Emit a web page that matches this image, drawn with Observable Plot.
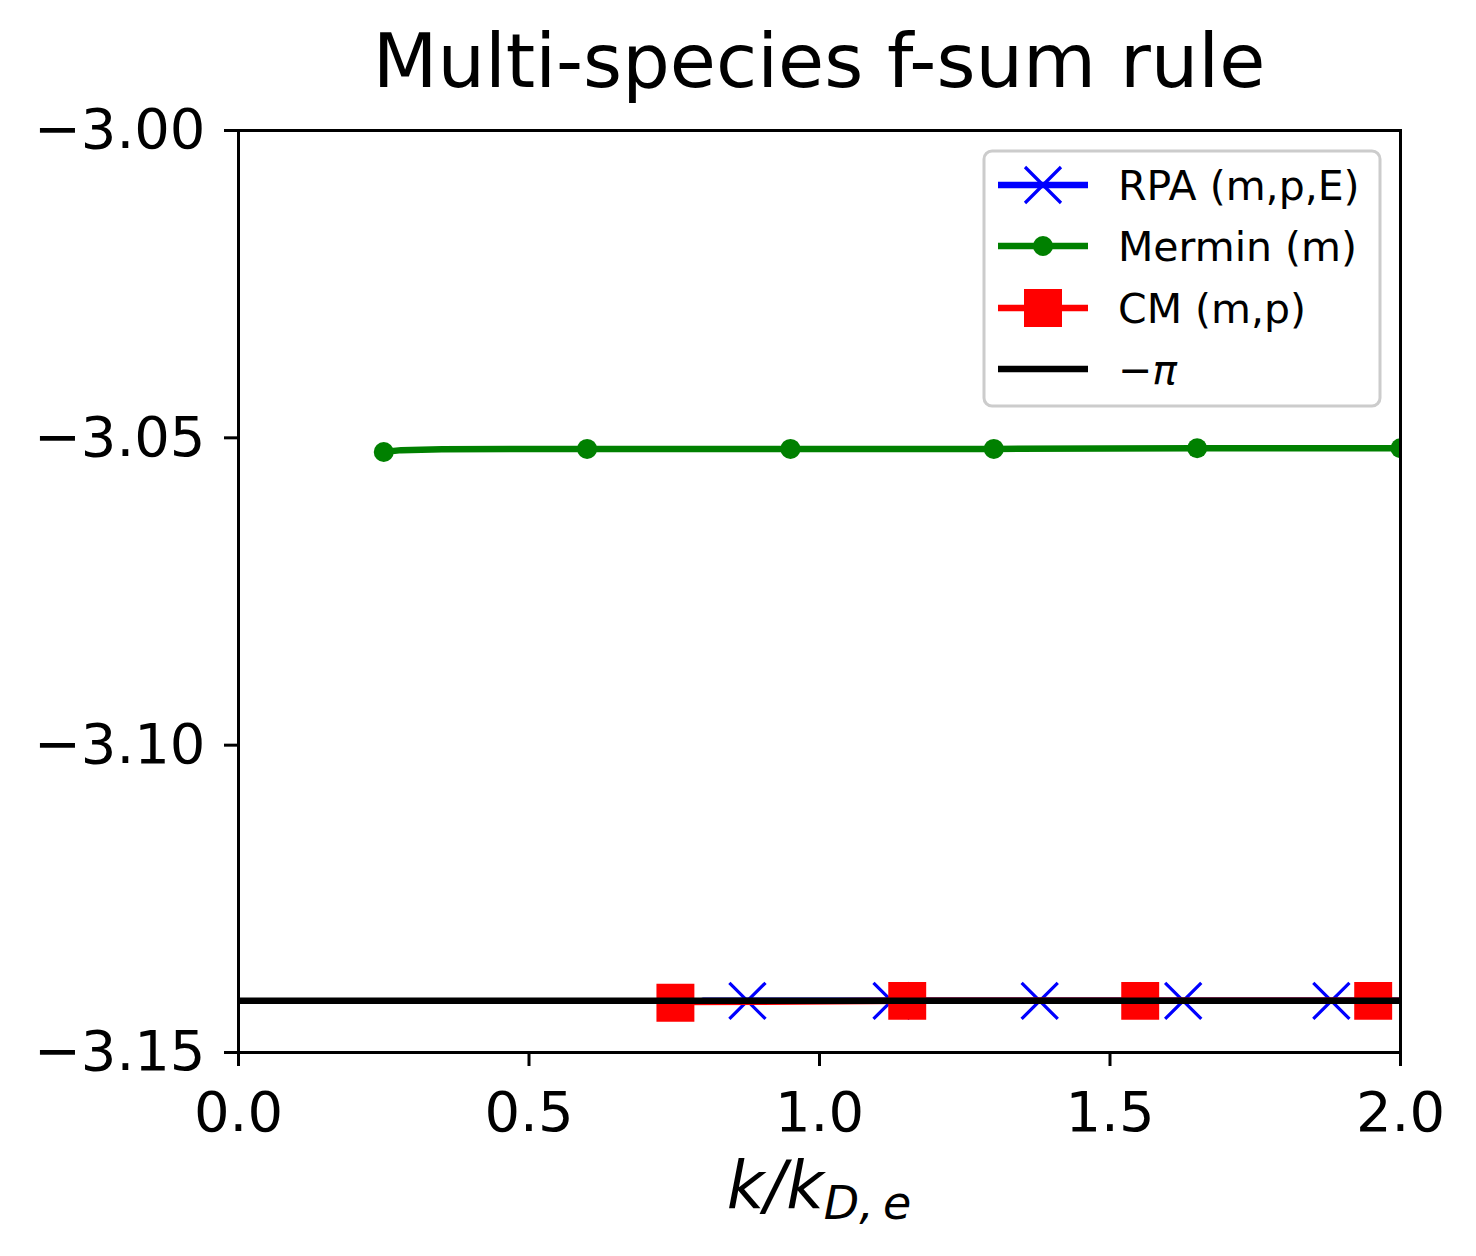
<!DOCTYPE html>
<html>
<head>
<meta charset="utf-8">
<script src="https://cdn.jsdelivr.net/npm/d3@7"></script>
<script src="https://cdn.jsdelivr.net/npm/@observablehq/plot@0.6"></script>
<style>
  html, body { margin: 0; padding: 0; background: #fff; }
  #chart { width: 1476px; height: 1256px; }
</style>
</head>
<body>
<div id="chart"></div>
<script>
// ---- data ----
const titleText = "Multi-species f-sum rule";
const xTicks = [0.0, 0.5, 1.0, 1.5, 2.0];
const yTicks = [-3.15, -3.10, -3.05, -3.00];

// RPA (m,p,E)
const kRPA = [0.80, 0.876, 1.124, 1.379, 1.626, 1.881, 2.00];
const fRPA = [-3.1416, -3.1416, -3.1416, -3.1416, -3.1416, -3.1416, -3.1416];
const kRPAmark = [0.876, 1.124, 1.379, 1.626, 1.881];
const fRPAmark = [-3.1416, -3.1416, -3.1416, -3.1416, -3.1416];

// Mermin (m)
const kMermin = [0.25, 0.28, 0.35, 0.60, 0.95, 1.30, 1.65, 2.00];
const fMermin = [-3.0523, -3.0520, -3.05185, -3.0518, -3.0518, -3.0518, -3.0517, -3.0517];
const kMerminMark = [0.25, 0.60, 0.95, 1.30, 1.65, 2.00];
const fMerminMark = [-3.0523, -3.0518, -3.0518, -3.0518, -3.0517, -3.0517];

// CM (m,p)
const kCM = [0.752, 1.151, 1.552, 1.953, 2.00];
const fCM = [-3.1418, -3.1416, -3.1416, -3.1416, -3.1416];
const kCMmark = [0.752, 1.151, 1.552, 1.953];
const fCMmark = [-3.1419, -3.1416, -3.1416, -3.1416];

// reference line
const refValue = [-Math.PI];

const legendItems = [
  {label: "RPA (m,p,E)", color: "blue", marker: "x"},
  {label: "Mermin (m)", color: "green", marker: "o"},
  {label: "CM (m,p)", color: "red", marker: "s"},
  {label: "\u2212\u03c0", color: "black", marker: null}
];

// ---- tables built from arrays ----
const zip = (ks, fs) => ks.map((k, i) => ({k, f: fs[i]}));
const rpaLine = zip(kRPA, fRPA), rpaMark = zip(kRPAmark, fRPAmark);
const merLine = zip(kMermin, fMermin), merMark = zip(kMerminMark, fMerminMark);
const cmLine = zip(kCM, fCM), cmMark = zip(kCMmark, fCMmark);

const LW = 6.5;
const FONT = "DejaVu Sans, Liberation Sans, sans-serif";

const plot = Plot.plot({
  width: 1476,
  height: 1256,
  marginLeft: 238,
  marginRight: 76,
  marginTop: 130,
  marginBottom: 204,
  style: {fontFamily: FONT, background: "white", color: "black"},
  x: {domain: [0, 2]},
  y: {domain: [-3.15, -3.00]},
  marks: [
    Plot.line(rpaLine, {x: "k", y: "f", stroke: "blue", strokeWidth: LW, clip: "frame"}),
    Plot.dot(rpaMark, {x: "k", y: "f", symbol: "times", r: 16.5, stroke: "blue", strokeWidth: 3.2, clip: "frame"}),
    Plot.line(merLine, {x: "k", y: "f", stroke: "green", strokeWidth: LW, clip: "frame"}),
    Plot.dot(merMark, {x: "k", y: "f", r: 10, fill: "green", stroke: "none", clip: "frame"}),
    Plot.line(cmLine, {x: "k", y: "f", stroke: "red", strokeWidth: LW, clip: "frame"}),
    Plot.dot(cmMark, {x: "k", y: "f", symbol: "square", r: 21.4, fill: "red", stroke: "none", clip: "frame"}),
    Plot.ruleY(refValue, {stroke: "black", strokeWidth: LW}),
    Plot.frame({stroke: "black", strokeWidth: 3}),
    Plot.axisX({ticks: xTicks, tickFormat: d3.format(".1f"), tickSize: 14, tickPadding: 25,
                fontSize: 56, strokeWidth: 3, label: null}),
    Plot.axisY({ticks: yTicks, tickFormat: d3.format(".2f"), tickSize: 14, tickPadding: 19,
                fontSize: 56, strokeWidth: 3, label: null})
  ]
});

document.getElementById("chart").appendChild(plot);

const svg = d3.select(plot);
const xs = plot.scale("x");
const cx = (xs.range[0] + xs.range[1]) / 2;

// title
svg.append("text")
  .attr("x", cx).attr("y", 87)
  .attr("text-anchor", "middle")
  .attr("font-family", FONT)
  .attr("font-size", 75)
  .attr("fill", "black")
  .text(titleText);

// x label: k/k_{D,e}
const xl = svg.append("text")
  .attr("x", cx).attr("y", 1208)
  .attr("text-anchor", "middle")
  .attr("font-family", FONT)
  .attr("font-size", 65)
  .attr("font-style", "italic")
  .attr("fill", "black");
xl.append("tspan").text("k/k");
xl.append("tspan").attr("font-size", 46).attr("dy", 11).text("D,\u2009e");

// legend
const lg = svg.append("g").attr("text-anchor", "start");
const LX0 = 984, LY0 = 151, LW_ = 396, LH = 255;
lg.append("rect")
  .attr("x", LX0).attr("y", LY0).attr("width", LW_).attr("height", LH)
  .attr("rx", 8).attr("ry", 8)
  .attr("fill", "white").attr("fill-opacity", 0.8)
  .attr("stroke", "#cccccc").attr("stroke-width", 3);
const rowY = [185, 246, 308, 369];
const sx0 = 998, sx1 = 1088, scx = (sx0 + sx1) / 2;
legendItems.forEach((it, i) => {
  const y = rowY[i];
  lg.append("line").attr("x1", sx0).attr("x2", sx1).attr("y1", y).attr("y2", y)
    .attr("stroke", it.color).attr("stroke-width", LW);
  if (it.marker === "x") {
    const h = 18;
    lg.append("path")
      .attr("d", `M${scx - h},${y - h}L${scx + h},${y + h}M${scx - h},${y + h}L${scx + h},${y - h}`)
      .attr("stroke", it.color).attr("stroke-width", 3.2).attr("fill", "none");
  } else if (it.marker === "o") {
    lg.append("circle").attr("cx", scx).attr("cy", y).attr("r", 10).attr("fill", it.color);
  } else if (it.marker === "s") {
    lg.append("rect").attr("x", scx - 19).attr("y", y - 19).attr("width", 38).attr("height", 38)
      .attr("fill", it.color);
  }
  const t = lg.append("text")
    .attr("x", 1118).attr("y", y + 15)
    .attr("text-anchor", "start")
    .attr("font-family", FONT).attr("font-size", 41).attr("fill", "black");
  if (it.marker === null) {
    t.append("tspan").text("\u2212");
    t.append("tspan").attr("font-style", "italic").text("\u03c0");
  } else {
    t.text(it.label);
  }
});
</script>
</body>
</html>
